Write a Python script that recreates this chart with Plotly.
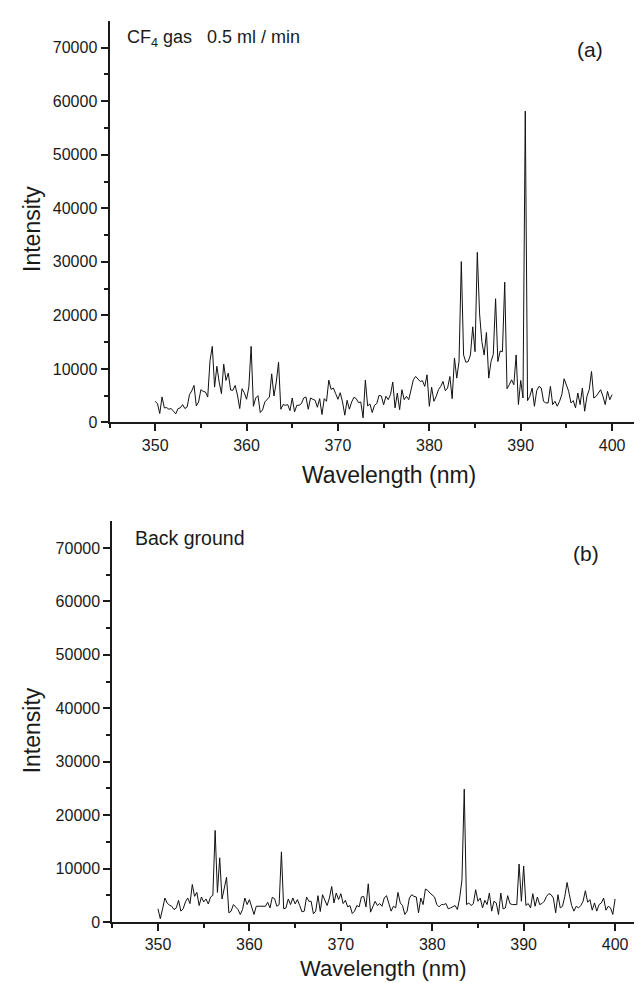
import numpy as np
import plotly.graph_objects as go

# Wavelength grid (nm), 0.25 nm steps from 350 to 400
wavelength = np.round(np.arange(350.0, 400.0001, 0.25), 2)

# (a) CF4 gas 0.5 ml/min spectrum
intensity_cf4 = [
    3955, 3500, 1670, 4760, 2720, 2780, 2470, 2600, 2100, 1600,
    2600, 2720, 3340, 2600, 2900, 5200, 5900, 6920, 3090, 3830,
    6120, 5810, 5690, 4760, 11560, 14210, 6610, 10500, 7540, 5380,
    10880, 7850, 9210, 6060, 5990, 6920, 5130, 2600, 6300, 5560,
    4330, 6610, 14210, 3030, 4570, 5010, 1850, 2350, 3830, 4260,
    4760, 9080, 4940, 7540, 11250, 2470, 3340, 3210, 3340, 2220,
    4570, 1980, 3210, 3210, 3520, 4570, 4760, 2470, 4570, 4330,
    4140, 2840, 4450, 1480, 4450, 3960, 7910, 6180, 6430, 5380,
    4330, 5560, 3830, 1360, 4140, 2470, 3830, 4700, 4450, 3710,
    3830, 870, 7910, 3090, 3460, 1850, 3210, 3520, 5070, 4940,
    3300,
    4900, 4260, 5200, 7540, 2720, 5500, 2400, 6120, 4260, 4880,
    4260, 6430, 7970, 8590, 8160, 7660, 7790, 6740, 8900, 3030,
    6610, 3950, 4880, 6120, 6740, 7660, 5930, 6430, 8590, 4450,
    12050, 8280, 11370, 30040, 12610, 11250, 11370, 12610, 17860, 13220,
    31760, 20270, 15080, 12610, 16810, 8280, 11370, 12730, 23110, 11370,
    13350, 13220, 26200, 6300, 7050, 7970, 7050, 12610, 3340, 7850,
    4570, 58150, 4080, 4880, 6430, 3030, 5930, 6740, 6430, 3950,
    3650, 3650, 6740, 3340, 3950, 3030, 3950, 5200, 8160, 7050,
    5810, 3650, 4080, 2720, 5500, 3340, 6430, 2100, 4880, 6120,
    9520, 4570, 4880, 5500, 6120, 4880, 3340, 5810, 4260, 5200,
]

# (b) Background spectrum
intensity_bg = [
    2470, 620, 2470, 4500, 3580, 3150, 2960, 2340, 2650, 4070,
    2040, 2470, 3760, 4500, 3460, 7030, 4810, 5550, 3090, 4690,
    3760, 4320, 3390, 4690, 5000, 17150, 5550, 12030, 4320, 6350,
    8390, 1730, 2040, 3270, 2780, 2340, 1420, 2340, 4500, 3270,
    4200, 2960, 1420, 2960, 2960, 2960, 3090, 2960, 3700, 2650,
    4630, 4380, 2960, 3270, 13140, 2470, 2650, 4320, 3270, 4500,
    3390, 4200, 3090, 1910, 2040, 4690, 3890, 3890, 1540, 2040,
    4940, 1970, 5120, 4200, 3090, 4500, 6660, 3580, 5430, 4200,
    5310, 3460, 4070, 2840, 3090, 1600, 2040, 3090, 2840, 4690,
    4810, 2840, 7160, 1850, 2960, 3890,
    3090, 3460, 2960, 4500, 4940, 3270, 2040, 2960, 2650, 5550,
    3580, 3090, 1420, 2040, 4500, 5120, 4810, 4690, 1730, 4500,
    3270, 6170, 5920, 5430, 5000, 4690, 3270, 2840, 3270, 3270,
    3460, 2470, 2650, 2840, 3090, 2340, 4500, 7900, 24870, 3270,
    3580, 3090, 3460, 6050, 3890, 4500, 2650, 4070, 3270, 5430,
    2040, 3890, 3580, 1420, 5430, 2470, 2650, 4940, 3460, 3270,
    3270, 3270, 10860, 3890, 10490, 3090, 3460, 2650, 5310, 2960,
    4690, 3270, 3460, 3890, 4810, 5310, 5120, 4500, 1730, 5120,
    2650, 2960, 4810, 7400, 5120, 3090, 2040, 2960, 2650, 3090,
    3890, 5860, 3700, 4200, 2220, 3580, 2040, 3270, 3580, 4500,
    2220, 2960, 2650, 1420, 4320,
]

y_tick_vals = [0, 10000, 20000, 30000, 40000, 50000, 60000, 70000]
y_tick_text = ["0", "10000", "20000", "30000", "40000", "50000", "60000", "70000"]
x_tick_vals = [350, 360, 370, 380, 390, 400]
x_tick_text = ["350", "360", "370", "380", "390", "400"]

W, H = 642, 983
FONT = "Liberation Sans, Arial, sans-serif"
INK = "#1a1a1a"

fig = go.Figure()
fig.add_trace(go.Scatter(x=wavelength, y=intensity_cf4, mode="lines",
                         line=dict(color="#111111", width=1), xaxis="x", yaxis="y",
                         showlegend=False, hoverinfo="skip"))
fig.add_trace(go.Scatter(x=wavelength, y=intensity_bg, mode="lines",
                         line=dict(color="#111111", width=1), xaxis="x2", yaxis="y2",
                         showlegend=False, hoverinfo="skip"))

def xax(domain, anchor):
    return dict(domain=domain, anchor=anchor, range=[345, 403],
                tickmode="array", tickvals=x_tick_vals, ticktext=x_tick_text,
                showline=True, linecolor=INK, linewidth=2, ticks="outside",
                ticklen=7, tickwidth=2, tickcolor=INK, showgrid=False, zeroline=False,
                tickfont=dict(family=FONT, size=16, color=INK),
                minor=dict(tickmode="array", tickvals=[345, 355, 365, 375, 385, 395],
                           ticks="outside", ticklen=4, tickwidth=1.5, tickcolor=INK,
                           showgrid=False))

def yax(domain, anchor):
    return dict(domain=domain, anchor=anchor, range=[0, 75000],
                tickmode="array", tickvals=y_tick_vals, ticktext=y_tick_text,
                showline=True, linecolor=INK, linewidth=2, ticks="outside",
                ticklen=7, tickwidth=2, tickcolor=INK, showgrid=False, zeroline=False,
                tickfont=dict(family=FONT, size=16, color=INK),
                minor=dict(tickmode="array",
                           tickvals=[5000, 15000, 25000, 35000, 45000, 55000, 65000],
                           ticks="outside", ticklen=4, tickwidth=1.5, tickcolor=INK,
                           showgrid=False))

top_x = [101.5 / W, 631.5 / W]
top_y = [1 - 418.3 / H, 1 - 13 / H]
bot_x = [104.3 / W, 634.5 / W]
bot_y = [1 - 922.5 / H, 1 - 518 / H]

fig.update_layout(
    width=W, height=H, margin=dict(l=0, r=0, t=0, b=0),
    paper_bgcolor="white", plot_bgcolor="white",
    xaxis=xax(top_x, "y"), yaxis=yax(top_y, "x"),
    xaxis2=xax(bot_x, "y2"), yaxis2=yax(bot_y, "x2"),
    showlegend=False,
)

def ann(text, x, y, size, angle=0, xanchor="center"):
    fig.add_annotation(text=text, x=x / W, y=1 - y / H, xref="paper", yref="paper",
                       showarrow=False, textangle=angle, xanchor=xanchor, yanchor="middle",
                       font=dict(family=FONT, size=size, color=INK))

ann("Intensity", 24, 223, 23, angle=-90)
ann("Intensity", 24, 729, 23, angle=-90)
ann("Wavelength (nm)", 381, 471, 23)
ann("Wavelength (nm)", 376, 969, 22)
ann("CF<sub>4</sub> gas\u00a0\u00a0 0.5 ml / min", 117, 31, 18, xanchor="left")
ann("Back ground", 125, 535, 19.5, xanchor="left")
ann("(a)", 582, 42, 21)
ann("(b)", 578, 551, 21)

fig.write_html("out.html")
